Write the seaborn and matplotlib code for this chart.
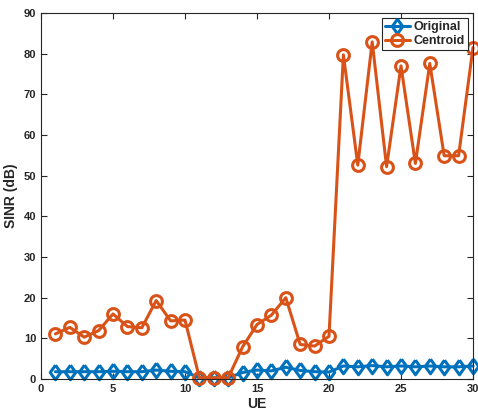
import numpy as np
import pandas as pd
import matplotlib
matplotlib.use("Agg")
import matplotlib.pyplot as plt
import seaborn as sns

ue = list(range(1, 31))
original = [1.8, 1.8, 1.8, 1.8, 1.9, 1.8, 1.8, 2.2, 1.9, 1.8,
            0.3, 0.3, 0.3, 1.6, 2.2, 2.0, 2.9, 2.1, 1.8, 1.7,
            3.2, 3.0, 3.3, 3.0, 3.2, 3.0, 3.2, 3.0, 3.0, 3.2]
centroid = [11.1, 12.7, 10.3, 11.9, 16.0, 12.9, 12.6, 19.3, 14.3, 14.5,
            0.3, 0.3, 0.3, 7.9, 13.4, 15.7, 20.0, 8.5, 8.1, 10.5,
            79.7, 52.6, 82.9, 52.2, 77.0, 53.0, 77.6, 54.9, 54.9, 81.5]
series_names = ["Original", "Centroid"]

df = pd.DataFrame({
    "UE": ue * 2,
    "SINR": original + centroid,
    "Series": [series_names[0]] * len(ue) + [series_names[1]] * len(ue),
})

sns.set_style("ticks")
plt.rcParams["font.family"] = ["Liberation Sans", "DejaVu Sans"]
plt.rcParams["font.weight"] = "bold"

fig = plt.figure(figsize=(4.78, 4.15), dpi=100)
ax = fig.add_axes([0.0858, 0.0867, 0.9895 - 0.0858, 0.9687 - 0.0867])

# slightly narrow diamond, closed outline
diamond = [(0, 1), (0.72, 0), (0, -1), (-0.72, 0), (0, 1)]
palette = {"Original": "#0072BD", "Centroid": "#D95319"}
markers = {"Original": diamond, "Centroid": "o"}
sns.lineplot(data=df, x="UE", y="SINR", hue="Series", style="Series",
             palette=palette, markers=markers, dashes=False,
             linewidth=2.2, markersize=9, ax=ax, clip_on=False)


def hollow(line):
    c = line.get_color()
    line.set_markerfacecolor("none")
    line.set_markeredgecolor(c)
    line.set_markeredgewidth(2.2)
    line.set_linestyle("-")
    if line.get_label() == "Original" or c == "#0072BD":
        line.set_markersize(10.5)
    else:
        line.set_markersize(8.5)


for line in ax.lines:
    hollow(line)

ax.set_xlim(0, 30)
ax.set_ylim(0, 90)
ax.set_xticks(range(0, 31, 5))
ax.set_yticks(range(0, 91, 10))
ax.tick_params(direction="in", top=True, right=True, length=4,
               labelsize=8, width=0.8, colors="#262626")
for lab in ax.get_xticklabels() + ax.get_yticklabels():
    lab.set_fontweight("bold")
for sp in ax.spines.values():
    sp.set_visible(True)
    sp.set_linewidth(0.8)
    sp.set_color("#262626")
    sp.set_zorder(5)

ax.set_xlabel("UE", fontsize=10, fontweight="bold", labelpad=2)
ax.set_ylabel("SINR (dB)", fontsize=10, fontweight="bold", labelpad=4)

handles, labels = ax.get_legend_handles_labels()
for h in handles:
    hollow(h)
leg = ax.legend(handles, labels, loc="upper right", fontsize=9,
                frameon=True, fancybox=False, edgecolor="#262626",
                framealpha=1, borderpad=0.25, handlelength=2.0,
                handletextpad=0.3, labelspacing=0.15, borderaxespad=0.4)
leg.get_frame().set_linewidth(0.8)
leg.set_zorder(10)
for t in leg.get_texts():
    t.set_fontweight("bold")

fig.savefig("out.png", dpi=100)
